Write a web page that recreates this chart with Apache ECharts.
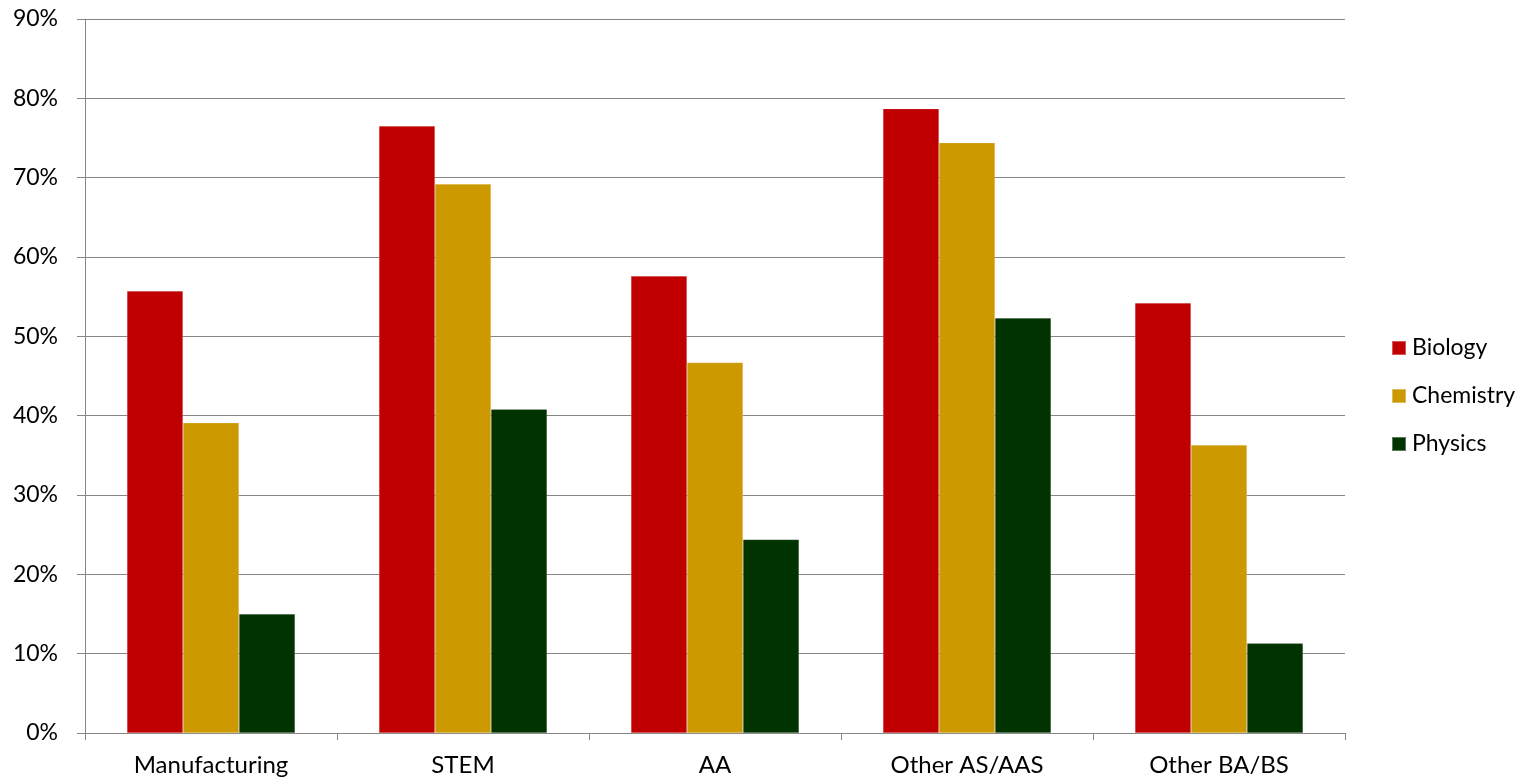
<!DOCTYPE html>
<html>
<head>
<meta charset="utf-8">
<script src="https://cdn.jsdelivr.net/npm/echarts@6/dist/echarts.min.js"></script>
<style>
  html, body { margin: 0; padding: 0; background: #fff; }
  #chart { width: 1521px; height: 779px; }
</style>
</head>
<body>
<div id="chart"></div>
<script>
// Share of students by program type, per science subject (percent)
const categories = ['Manufacturing', 'STEM', 'AA', 'Other AS/AAS', 'Other BA/BS'];
const biology   = [55.7, 76.5, 57.6, 78.7, 54.2];
const chemistry = [39.1, 69.2, 46.7, 74.4, 36.3];
const physics   = [15.0, 40.8, 24.4, 52.3, 11.3];

const FONT = 'Lato, "Open Sans", sans-serif';
const AXIS_GREY = '#868686';

const chart = echarts.init(document.getElementById('chart'), null, { renderer: 'canvas' });

function barSeries(name, data, color) {
  return {
    name: name,
    type: 'bar',
    data: data,
    barGap: '0%',
    barCategoryGap: '33.3%',
    itemStyle: { color: color, borderColor: 'rgba(255,255,255,0.35)', borderWidth: 0.5 },
    emphasis: { disabled: true }
  };
}

chart.setOption({
  animation: false,
  backgroundColor: '#ffffff',
  textStyle: { fontFamily: FONT },
  grid: { left: 85, right: 176, top: 19, bottom: 46, containLabel: false },
  legend: {
    orient: 'vertical',
    left: 1386,
    top: 331,
    icon: 'rect',
    itemWidth: 14,
    itemHeight: 14,
    itemGap: 24,
    textStyle: { fontFamily: FONT, fontSize: 23, lineHeight: 24, color: '#000', padding: [0, 0, 0, 1] },
    data: ['Biology', 'Chemistry', 'Physics']
  },
  xAxis: {
    type: 'category',
    data: categories,
    axisLine: { lineStyle: { color: AXIS_GREY, width: 1 } },
    axisTick: { show: true, length: 7, lineStyle: { color: AXIS_GREY } },
    axisLabel: { fontFamily: FONT, fontSize: 24, color: '#000', margin: 20 }
  },
  yAxis: {
    type: 'value',
    min: 0,
    max: 90,
    interval: 10,
    axisLine: { show: true, lineStyle: { color: AXIS_GREY, width: 1 } },
    axisTick: { show: true, length: 8, lineStyle: { color: AXIS_GREY } },
    splitLine: { show: true, lineStyle: { color: AXIS_GREY, width: 1 } },
    axisLabel: { fontFamily: FONT, fontSize: 23, color: '#000', margin: 27, formatter: '{value}%' }
  },
  series: [
    barSeries('Biology', biology, '#C00000'),
    barSeries('Chemistry', chemistry, '#CC9900'),
    barSeries('Physics', physics, '#003300')
  ]
});
</script>
</body>
</html>
